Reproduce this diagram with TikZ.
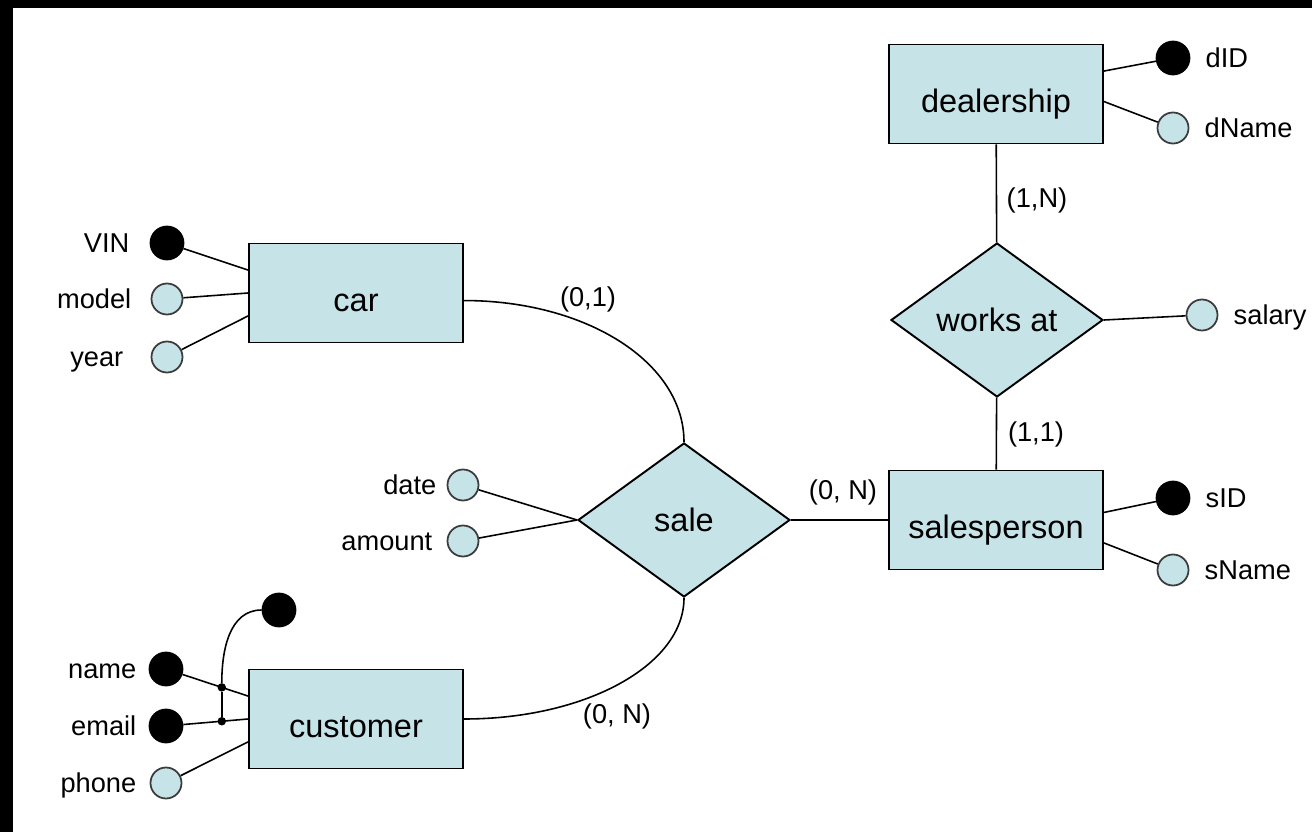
\documentclass[tikz,border=0pt]{standalone}
\usepackage{fontspec}
\setmainfont{Liberation Sans}
\usetikzlibrary{shapes.geometric,calc}
\definecolor{erblue}{RGB}{198,227,232}
\definecolor{ergray}{RGB}{60,60,60}

\begin{document}
\begin{tikzpicture}[x=0.2mm,y=0.2mm,label distance=.3cm,
  entity/.style={draw,line width=1.1pt,fill=erblue,minimum width=4.28cm,minimum height=1.98cm,inner sep=0pt,
    font=\fontsize{18.5}{22}\selectfont,text height=26pt,text depth=4.5pt},
  relation/.style={diamond,draw,line width=1.1pt,fill=erblue,minimum width=4.24cm,minimum height=3.08cm,inner sep=0pt,
    font=\fontsize{18.5}{22}\selectfont},
  attr/.style={circle,draw=ergray,line width=1pt,fill=erblue,minimum size=.62cm,inner sep=0pt},
  keyattr/.style={attr,draw=black,fill=black,minimum size=.66cm},
  lbl/.style={inner sep=0pt,font=\fontsize{15.5}{18}\selectfont,text height=14pt,text depth=2.8pt},
  every label/.style={lbl},
  dot/.style={circle,fill=black,minimum size=.17cm,inner sep=0pt},
  link/.style={line width=.9pt}]
\useasboundingbox (0,0) rectangle (1312,832);
\fill[white] (0,0) rectangle (1312,832);
\fill[black] (0,0) rectangle (13,832);
\fill[black] (0,824) rectangle (1312,832);

% entities and relationships
\node[entity] (car) at (356,539) {car};
\node[entity] (customer) at (356,113) {customer};
\node[entity] (dealership) at (996,738) {dealership};
\node[entity] (salesperson) at (996,312) {salesperson};
\node[relation] (sale) at (684,312) {sale};
\node[relation] (worksat) at (997,512) {works at};

% attributes
\node[keyattr,label={[label distance=.4cm]left:VIN}] (vin) at (167,589) {};
\node[attr,label={[label distance=.38cm]left:model}] (model) at (167,533) {};
\node[attr,label={[label distance=.54cm]left:year}] (year) at (167,475) {};
\node[keyattr,label={[label distance=.24cm]left:name}] (name) at (166,163) {};
\node[keyattr,label={[label distance=.24cm]left:email}] (email) at (166,106) {};
\node[attr,label={[label distance=.26cm]left:phone}] (phone) at (166,49) {};
\node[keyattr] (custkey) at (279,222) {};
\node[keyattr,label=right:dID] (did) at (1173,774) {};
\node[attr,label=right:dName] (dname) at (1173,704) {};
\node[keyattr,label=right:sID] (sid) at (1173,334) {};
\node[attr,label=right:sName] (sname) at (1173,262) {};
\node[attr,label=right:salary] (salary) at (1202,517) {};
\node[attr,label={[label distance=.2cm]left:date}] (date) at (463,347) {};
\node[attr,label={[label distance=.28cm]left:amount}] (amount) at (463,291) {};

% cardinalities
\node[lbl] (c01) at (588,535) {(0,1)};
\node[lbl] (c0n) at (843,342) {(0, N)};
\node[lbl] (c0nb) at (617,118) {(0, N)};
\node[lbl] (c1n) at (1037,634) {(1,N)};
\node[lbl] (c11) at (1036,400) {(1,1)};

% attribute links
\draw[link] (vin) -- (car.168);
\draw[link] (model) -- (car.west);
\draw[link] (year) -- (car.192);
\draw[link] (name) -- (customer.168);
\draw[link] (email) -- (customer.west);
\draw[link] (phone) -- (customer.192);
\draw[link] (did) -- (dealership.12);
\draw[link] (dname) -- (dealership.-4);
\draw[link] (sid) -- (salesperson.4);
\draw[link] (sname) -- (salesperson.-12);
\draw[link] (date) -- (sale.west);
\draw[link] (amount) -- (sale.west);
\draw[link] (salary) -- (worksat.east);

% composite key on customer
\node[dot] (kn) at ($(name.center)!.68!(customer.168)$) {};
\node[dot] (ke) at ($(email.center)!.68!(customer.west)$) {};
\draw[link] (ke) -- (kn);
\draw[link] (kn) to[out=90,in=180] (custkey);

% relationship links
\draw[link] (sale.east) -- (salesperson.west);
\draw[link] (dealership) -- (worksat);
\draw[link] (worksat) -- (salesperson);
\draw[link] (car.-4) .. controls +(122,0) and +(0,80) .. (sale.north);
\draw[link] (sale.south) .. controls +(0,-67) and +(122,0) .. (customer.east);
\end{tikzpicture}
\end{document}
